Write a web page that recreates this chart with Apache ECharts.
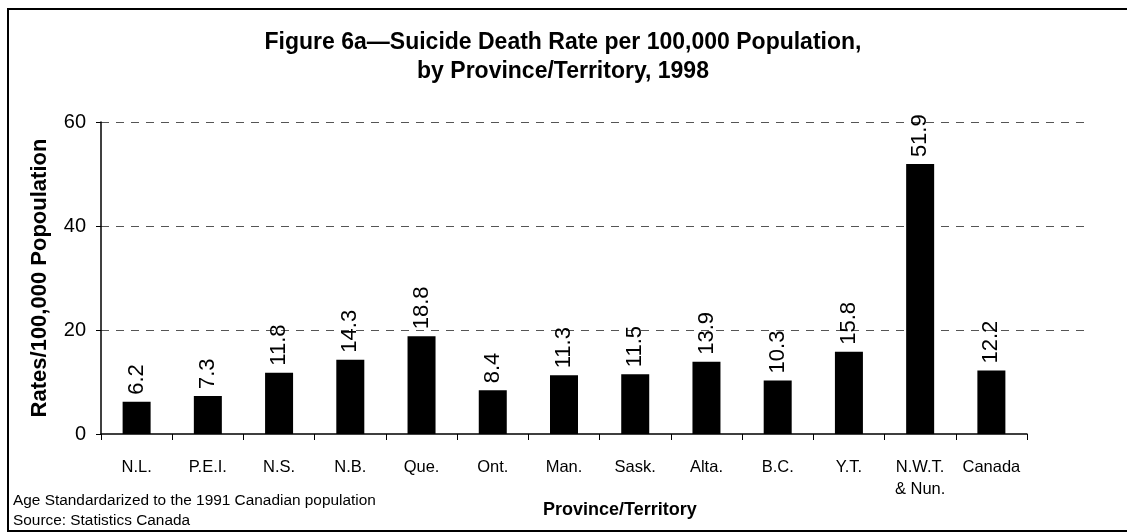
<!DOCTYPE html>
<html>
<head>
<meta charset="utf-8">
<script src="https://cdn.jsdelivr.net/npm/echarts@6/dist/echarts.min.js"></script>
<style>
  html, body { margin: 0; padding: 0; background: #fff; }
  #chart { width: 1127px; height: 532px; }
</style>
</head>
<body>
<div id="chart"></div>
<script>
const categories = ['N.L.', 'P.E.I.', 'N.S.', 'N.B.', 'Que.', 'Ont.', 'Man.', 'Sask.', 'Alta.', 'B.C.', 'Y.T.', 'N.W.T.\n& Nun.', 'Canada'];
const rates = [6.2, 7.3, 11.8, 14.3, 18.8, 8.4, 11.3, 11.5, 13.9, 10.3, 15.8, 51.9, 12.2];
const yTicks = { min: 0, max: 60, interval: 20 };

const font = '"Liberation Sans", Arial, sans-serif';

var myChart = echarts.init(document.getElementById('chart'));

myChart.setOption({
    animation: false,
    textStyle: { fontFamily: font, color: '#000' },
    title: {
        text: 'Figure 6a\u2014Suicide Death Rate per 100,000 Population,\nby Province/Territory, 1998',
        left: 563,
        textAlign: 'center',
        top: 28,
        padding: 0,
        textStyle: { fontSize: 23, fontWeight: 'bold', color: '#000', lineHeight: 29, fontFamily: font }
    },
    grid: [
        { left: 101, right: 100, top: 122, bottom: 98 },
        { left: 101, right: 41, top: 122, bottom: 202 }
    ],
    xAxis: [
        {
            type: 'category',
            gridIndex: 0,
            data: categories,
            axisLine: { lineStyle: { color: '#000', width: 1.5 } },
            axisTick: { show: true, interval: 0, length: 6, lineStyle: { color: '#000' } },
            axisLabel: { interval: 0, fontSize: 16.5, color: '#000', margin: 22, lineHeight: 22, fontFamily: font }
        },
        {
            type: 'category',
            gridIndex: 1,
            data: [''],
            show: false
        }
    ],
    yAxis: [
        {
            type: 'value',
            gridIndex: 0,
            min: yTicks.min,
            max: yTicks.max,
            interval: yTicks.interval,
            name: 'Rates/100,000 Popoulation',
            nameLocation: 'middle',
            nameGap: 50,
            nameTextStyle: { fontSize: 22, fontWeight: 'bold', color: '#000', fontFamily: font },
            axisLine: { show: true, lineStyle: { color: '#000', width: 1.5 } },
            axisTick: { show: true, length: 5, lineStyle: { color: '#000' } },
            axisLabel: { fontSize: 20, color: '#000', margin: 15, fontFamily: font },
            splitLine: { show: false }
        },
        {
            type: 'value',
            gridIndex: 1,
            min: 20,
            max: 60,
            interval: 20,
            axisLine: { show: false },
            axisTick: { show: false },
            axisLabel: { show: false },
            splitLine: { show: true, lineStyle: { color: '#555', type: [8, 7], width: 1 } }
        }
    ],
    series: [
        {
            type: 'bar',
            xAxisIndex: 0,
            yAxisIndex: 0,
            data: rates,
            barWidth: 28,
            itemStyle: { color: '#000' },
            label: {
                show: true,
                position: 'top',
                rotate: 90,
                align: 'left',
                verticalAlign: 'middle',
                distance: 7,
                fontSize: 22,
                color: '#000',
                fontFamily: font
            }
        }
    ],
    graphic: [
        {
            type: 'rect',
            shape: { x: 8, y: 9, width: 1130, height: 522 },
            style: { fill: 'none', stroke: '#000', lineWidth: 2 }
        },
        {
            type: 'text',
            left: 543,
            top: 501,
            style: { text: 'Province/Territory', font: 'bold 18px ' + font, fill: '#000' }
        },
        {
            type: 'text',
            left: 13,
            top: 491,
            style: { text: 'Age Standardarized to the 1991 Canadian population\nSource: Statistics Canada', font: '15.4px ' + font, fill: '#000', lineHeight: 20 }
        }
    ]
});
</script>
</body>
</html>
